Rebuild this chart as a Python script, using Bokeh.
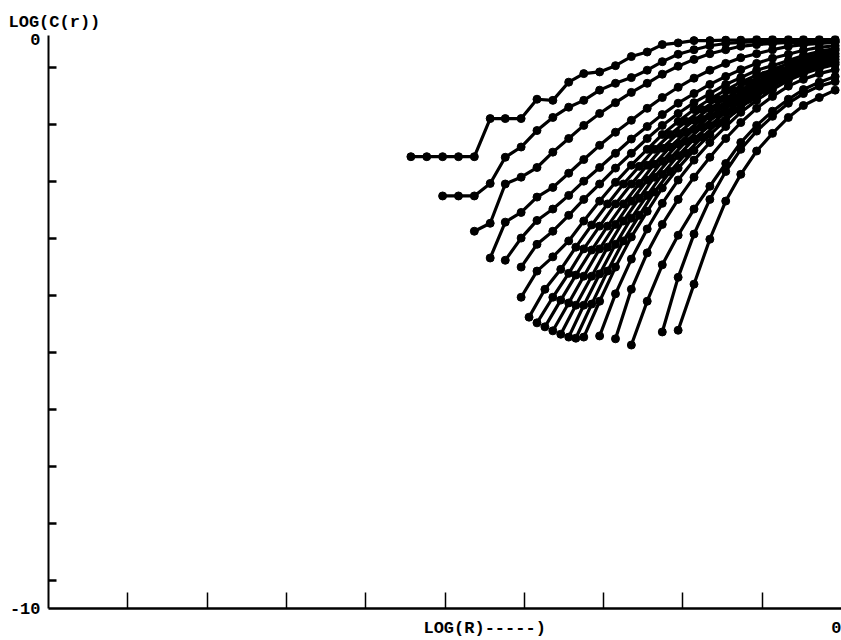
from bokeh.plotting import figure
from bokeh.models import Range1d, LinearAxis, FixedTicker
from bokeh.embed import file_html
from bokeh.resources import INLINE

# log R sample grids (two interleaved grids used by the curves)
LOG_R_A = [-5.43, -5.23, -5.03, -4.83, -4.63, -4.43, -4.24, -4.04, -3.84, -3.64,
           -3.44, -3.25, -3.05, -2.85, -2.65, -2.45, -2.26, -2.06, -1.86, -1.66,
           -1.46, -1.27, -1.07, -0.87, -0.67, -0.48, -0.28, -0.08]
LOG_R_B = [-5.33, -5.13, -4.93, -4.73, -4.53, -4.34, -4.14, -3.94, -3.74, -3.54,
           -3.35, -3.15, -2.95, -2.75, -2.55, -2.36, -2.16, -1.96, -1.76, -1.56,
           -1.37, -1.17, -0.97, -0.77, -0.57, -0.38, -0.18]

# log C(r) for each curve (grid, first grid index, values)
C1 = [-2.06, -2.06, -2.06, -2.06, -2.06, -1.39, -1.39, -1.39, -1.05, -1.07, -0.75, -0.60, -0.57, -0.46,
      -0.30, -0.22, -0.09, -0.06, -0.02, -0.02, -0.01, -0.01, 0, 0, 0, 0, 0, 0]
C2 = [-2.75, -2.75, -2.75, -2.53, -2.07, -1.89, -1.60, -1.37, -1.19, -1.07, -0.89, -0.77, -0.67, -0.54,
      -0.39, -0.26, -0.18, -0.11, -0.07, -0.05, -0.04, -0.04, -0.03, -0.03, -0.02, -0.02]
C3 = [-3.37, -3.23, -2.54, -2.42, -2.25, -1.98, -1.74, -1.51, -1.30, -1.11, -0.93, -0.77, -0.61, -0.47,
      -0.35, -0.25, -0.18, -0.12, -0.09, -0.07, -0.05, -0.05, -0.04, -0.04]
C4 = [-3.84, -3.21, -3.04, -2.77, -2.60, -2.35, -2.11, -1.86, -1.63, -1.42, -1.21, -1.02, -0.84, -0.68,
      -0.54, -0.42, -0.32, -0.25, -0.18, -0.12, -0.09, -0.07, -0.05]
C5 = [-3.88, -3.49, -3.18, -2.98, -2.74, -2.49, -2.25, -2.00, -1.75, -1.53, -1.32, -1.12, -0.95, -0.79,
      -0.65, -0.53, -0.42, -0.33, -0.26, -0.19, -0.14, -0.11]
C6 = [-4.00, -3.60, -3.37, -3.09, -2.81, -2.54, -2.26, -2.00, -1.74, -1.51, -1.30, -1.11, -0.95, -0.79,
      -0.67, -0.54, -0.46, -0.37, -0.28, -0.21, -0.16]
C7 = [-4.53, -4.07, -3.82, -3.54, -3.19, -2.84, -2.51, -2.21, -1.93, -1.67, -1.44, -1.23, -1.05, -0.89,
      -0.75, -0.63, -0.53, -0.42, -0.33, -0.26, -0.19]
C8 = [-4.88, -4.39, -4.04, -3.65, -3.26, -2.89, -2.54, -2.23, -1.93, -1.67, -1.44, -1.23, -1.05, -0.89,
      -0.75, -0.63, -0.53, -0.42, -0.33, -0.25]
C9 = [-4.98, -4.53, -4.11, -3.68, -3.28, -2.89, -2.54, -2.21, -1.91, -1.65, -1.42, -1.21, -1.04, -0.88,
      -0.74, -0.61, -0.51, -0.40, -0.32, -0.25]
C10 = [-5.05, -4.58, -4.14, -3.70, -3.28, -2.89, -2.53, -2.19, -1.89, -1.63, -1.40, -1.19, -1.02, -0.86,
       -0.72, -0.60, -0.49, -0.39, -0.30]
C11 = [-5.12, -4.63, -4.16, -3.68, -3.25, -2.84, -2.47, -2.14, -1.84, -1.58, -1.35, -1.16, -0.98, -0.82,
       -0.68, -0.56, -0.46, -0.37, -0.30]
C12 = [-5.18, -4.67, -4.16, -3.65, -3.19, -2.79, -2.42, -2.09, -1.79, -1.54, -1.32, -1.12, -0.95, -0.79,
       -0.65, -0.53, -0.44, -0.35]
C13 = [-5.23, -4.67, -4.12, -3.60, -3.14, -2.74, -2.37, -2.04, -1.75, -1.51, -1.28, -1.09, -0.91, -0.75,
       -0.61, -0.51, -0.42, -0.35]
C14 = [-5.25, -4.65, -4.07, -3.54, -3.09, -2.68, -2.32, -2.00, -1.72, -1.47, -1.25, -1.05, -0.88, -0.72,
       -0.60, -0.49, -0.40]
C15 = [-5.23, -4.60, -4.00, -3.47, -3.02, -2.61, -2.26, -1.95, -1.67, -1.42, -1.19, -1.00, -0.82, -0.68,
       -0.56, -0.47, -0.40]
C16 = [-5.21, -4.47, -3.86, -3.33, -2.88, -2.47, -2.12, -1.81, -1.53, -1.28, -1.07, -0.88, -0.72, -0.60,
       -0.51, -0.44]
C17 = [-5.26, -4.39, -3.75, -3.25, -2.81, -2.42, -2.07, -1.74, -1.46, -1.21, -1.00, -0.82, -0.70, -0.60,
       -0.53]
C18 = [-5.37, -4.60, -3.96, -3.44, -2.98, -2.58, -2.18, -1.81, -1.51, -1.26, -1.05, -0.88, -0.75, -0.65]
C19 = [-5.14, -4.18, -3.42, -2.81, -2.32, -1.93, -1.61, -1.35, -1.12, -0.95, -0.82, -0.74]
C20 = [-5.11, -4.30, -3.51, -2.84, -2.37, -1.96, -1.65, -1.37, -1.16, -1.02, -0.89]

CURVES = [("A", 0, C1), ("A", 2, C2), ("A", 4, C3), ("A", 5, C4), ("A", 6, C5),
          ("A", 7, C6), ("A", 7, C7), ("B", 7, C8), ("A", 8, C9), ("B", 8, C10),
          ("A", 9, C11), ("B", 9, C12), ("A", 10, C13), ("B", 10, C14), ("A", 11, C15),
          ("A", 12, C16), ("A", 13, C17), ("A", 14, C18), ("A", 16, C19), ("A", 17, C20)]

X_TICKS = [-9, -8, -7, -6, -5, -4, -3, -2, -1]
Y_TICKS = [-0.5, -1.5, -2.5, -3.5, -4.5, -5.5, -6.5, -7.5, -8.5, -9.5]
X_LABELS = {-4.5: "LOG(R)-----)", 0: "0"}
Y_LABELS = {0: "0", -10: "-10"}
TITLE = "LOG(C(r))"

FONT = "Liberation Mono"

p = figure(width=841, height=640, output_backend="svg", toolbar_location=None,
           x_range=Range1d(-10, 0), y_range=Range1d(-10, 0.07),
           x_axis_location=None, y_axis_location=None,
           min_border_left=48, min_border_right=0, min_border_top=35, min_border_bottom=31)
p.outline_line_color = None
p.grid.visible = False
p.background_fill_color = "white"
p.border_fill_color = "white"

p.title.text = TITLE
p.title.align = "left"
p.title.offset = -40
p.title.standoff = 8
p.title.text_font = FONT
p.title.text_font_style = "bold"
p.title.text_font_size = "17px"
p.title.text_color = "black"

# axis lines with inward ticks (no labels)
yaxis = LinearAxis(ticker=FixedTicker(ticks=[], minor_ticks=Y_TICKS),
                   minor_tick_in=8, minor_tick_out=0, major_tick_in=0, major_tick_out=0,
                   major_label_standoff=0, axis_line_width=2, minor_tick_line_width=2.5,
                   axis_line_color="black", minor_tick_line_color="black")
p.add_layout(yaxis, "left")
xaxis = LinearAxis(ticker=FixedTicker(ticks=[], minor_ticks=X_TICKS),
                   minor_tick_in=16, minor_tick_out=0, major_tick_in=0, major_tick_out=0,
                   major_label_standoff=0, axis_line_width=2.5, minor_tick_line_width=1.5,
                   axis_line_color="black", minor_tick_line_color="black")
p.add_layout(xaxis, "below")

lab = dict(major_label_text_font=FONT, major_label_text_font_style="bold",
           major_label_text_font_size="17px", major_label_text_color="black",
           axis_line_color=None, major_tick_line_color=None, minor_tick_line_color=None)
ylab = LinearAxis(ticker=FixedTicker(ticks=list(Y_LABELS.keys())), major_label_overrides=Y_LABELS,
                  major_label_standoff=2, major_label_text_baseline="top", **lab)
p.add_layout(ylab, "left")
xlab = LinearAxis(ticker=FixedTicker(ticks=list(X_LABELS.keys())), major_label_overrides=X_LABELS,
                  major_label_standoff=4, **lab)
p.add_layout(xlab, "below")

grids = {"A": LOG_R_A, "B": LOG_R_B}
for g, start, ys in CURVES:
    xs = grids[g][start:start + len(ys)]
    p.line(xs, ys, line_color="black", line_width=3.2)
    p.scatter(xs, ys, marker="circle", size=8, fill_color="black", line_color="black")

open("out.html", "w").write(file_html(p, INLINE))
